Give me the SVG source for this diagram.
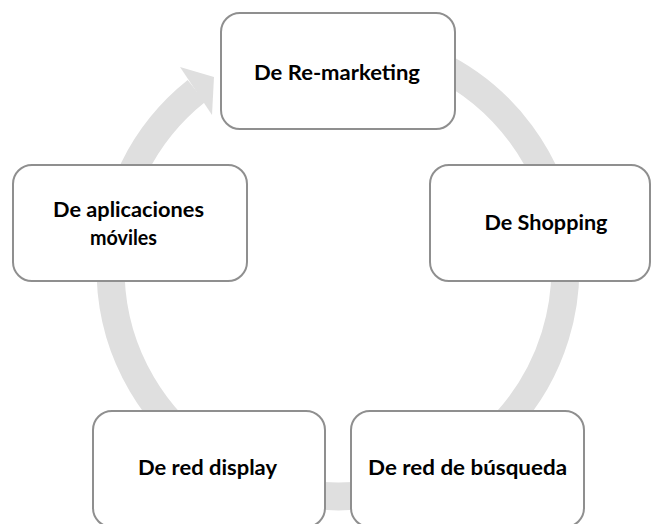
<svg xmlns="http://www.w3.org/2000/svg" width="652" height="524" viewBox="0 0 652 524">
<style>
.node rect{fill:#ffffff;stroke:#8f8f8f;stroke-width:2}
.node text{font-family:Lato,"Liberation Sans",sans-serif;font-weight:700;font-size:21px;fill:#000000;text-anchor:middle}
.ring{fill:none;stroke:#dfdfdf;stroke-width:28}
.head{fill:#dfdfdf}
</style>
<rect width="652" height="524" fill="#ffffff"/>
<g id="connectors">
<path class="ring" d="M 338 41.6 A 227.4 227.4 0 1 1 196.4 91.0"/>
<polygon class="head" points="180,67 214,77 212,115"/>
</g>
<g id="node-remarketing" class="node">
<rect x="221" y="13" width="234" height="116" rx="19" ry="19"/>
<text x="337" y="80" textLength="166" lengthAdjust="spacingAndGlyphs">De Re-marketing</text>
</g>
<g id="node-shopping" class="node">
<rect x="430" y="165" width="220" height="116" rx="19" ry="19"/>
<text x="546" y="230" textLength="123" lengthAdjust="spacingAndGlyphs">De Shopping</text>
</g>
<g id="node-busqueda" class="node">
<rect x="351" y="411" width="233" height="116" rx="19" ry="19"/>
<text x="467.5" y="475" textLength="199" lengthAdjust="spacingAndGlyphs">De red de búsqueda</text>
</g>
<g id="node-display" class="node">
<rect x="93" y="411" width="232" height="116" rx="19" ry="19"/>
<text x="207.5" y="475" textLength="139" lengthAdjust="spacingAndGlyphs">De red display</text>
</g>
<g id="node-aplicaciones" class="node">
<rect x="13" y="165" width="234" height="116" rx="19" ry="19"/>
<text x="128.5" y="217" textLength="151" lengthAdjust="spacingAndGlyphs">De aplicaciones</text>
<text x="123.5" y="245" textLength="67" lengthAdjust="spacingAndGlyphs">móviles</text>
</g>
</svg>
